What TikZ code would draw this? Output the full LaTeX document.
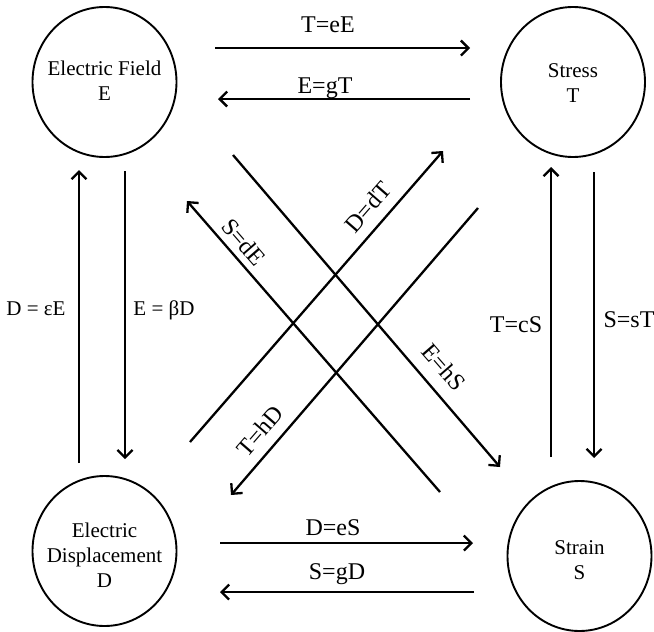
\documentclass[tikz,border=0pt]{standalone}
\usepackage{fontspec}
\setmainfont{Liberation Serif}
\usetikzlibrary{arrows.meta,shapes.geometric}

\begin{document}
\begin{tikzpicture}[x=1pt,y=-1pt,
  ring/.style={draw, line width=1.9pt, ellipse, minimum width=144pt, minimum height=150pt, inner sep=0pt},
  quantity/.style={align=center, font=\fontsize{21}{25}\selectfont, inner sep=0pt},
  rel/.style={font=\fontsize{24}{28}\selectfont, inner sep=0pt, anchor=base},
  smallrel/.style={rel, font=\fontsize{21}{25}\selectfont},
  link/.style={line width=2.3pt, -{Straight Barb[length=7.5pt,width=15pt]}}]

\useasboundingbox (0,0) rectangle (654,632);
\fill[white] (0,0) rectangle (654,632);

% the four field quantities
\node[ring] (E) at (104.5,82) {};
\node[ring] (T) at (573,82) {};
\node[ring] (D) at (104.5,551) {};
\node[ring] (S) at (579.5,556) {};
\node[quantity] (E-name) at (104.5,80.4) {Electric Field\\E};
\node[quantity] (T-name) at (573,83.4) {Stress\\T};
\node[quantity] (D-name) at (104.5,555.4) {Electric\\Displacement\\D};
\node[quantity] (S-name) at (579.5,560.4) {Strain\\S};

% connector end points
\coordinate (eE1) at (215,48);   \coordinate (eE2) at (470,48);
\coordinate (gT1) at (470,99);   \coordinate (gT2) at (218,99);
\coordinate (eS1) at (220,543);  \coordinate (eS2) at (473,543);
\coordinate (gD1) at (474,592);  \coordinate (gD2) at (220,592);
\coordinate (epsE1) at (79,463); \coordinate (epsE2) at (79,170);
\coordinate (betD1) at (125,171);\coordinate (betD2) at (125,459);
\coordinate (cS1) at (551,457);  \coordinate (cS2) at (551,167);
\coordinate (sT1) at (594,172);  \coordinate (sT2) at (594,458);
\coordinate (dE1) at (440,492);  \coordinate (dE2) at (187,201);
\coordinate (hS1) at (233,155);  \coordinate (hS2) at (500,467);
\coordinate (dT1) at (190,442);  \coordinate (dT2) at (443,151);
\coordinate (hD1) at (478,208);  \coordinate (hD2) at (231,495);

% horizontal relations
\draw[link] (eE1) -- (eE2);
\draw[link] (gT1) -- (gT2);
\draw[link] (eS1) -- (eS2);
\draw[link] (gD1) -- (gD2);
\node[rel] (l-eE) at (328,32) {T=eE};
\node[rel] (l-gT) at (325,93) {E=gT};
\node[rel] (l-eS) at (333,535) {D=eS};
\node[rel] (l-gD) at (337,579) {S=gD};

% vertical relations
\draw[link] (epsE1) -- (epsE2);
\draw[link] (betD1) -- (betD2);
\draw[link] (cS1) -- (cS2);
\draw[link] (sT1) -- (sT2);
\node[smallrel] (l-epsE) at (36,315) {D = εE};
\node[smallrel] (l-betD) at (164,315) {E = βD};
\node[rel] (l-cS) at (516,332) {T=cS};
\node[rel] (l-sT) at (629,327) {S=sT};

% crossing relations
\draw[link] (dE1) -- (dE2);
\draw[link] (hS1) -- (hS2);
\draw[link] (dT1) -- (dT2);
\draw[link] (hD1) -- (hD2);
\node[rel, anchor=center, rotate=-49] (l-dE) at (244,242) {S=dE};
\node[rel, anchor=center, rotate=49] (l-dT) at (368,207) {D=dT};
\node[rel, anchor=center, rotate=-49] (l-hS) at (444,367) {E=hS};
\node[rel, anchor=center, rotate=49] (l-hD) at (260,431) {T=hD};
\end{tikzpicture}
\end{document}
